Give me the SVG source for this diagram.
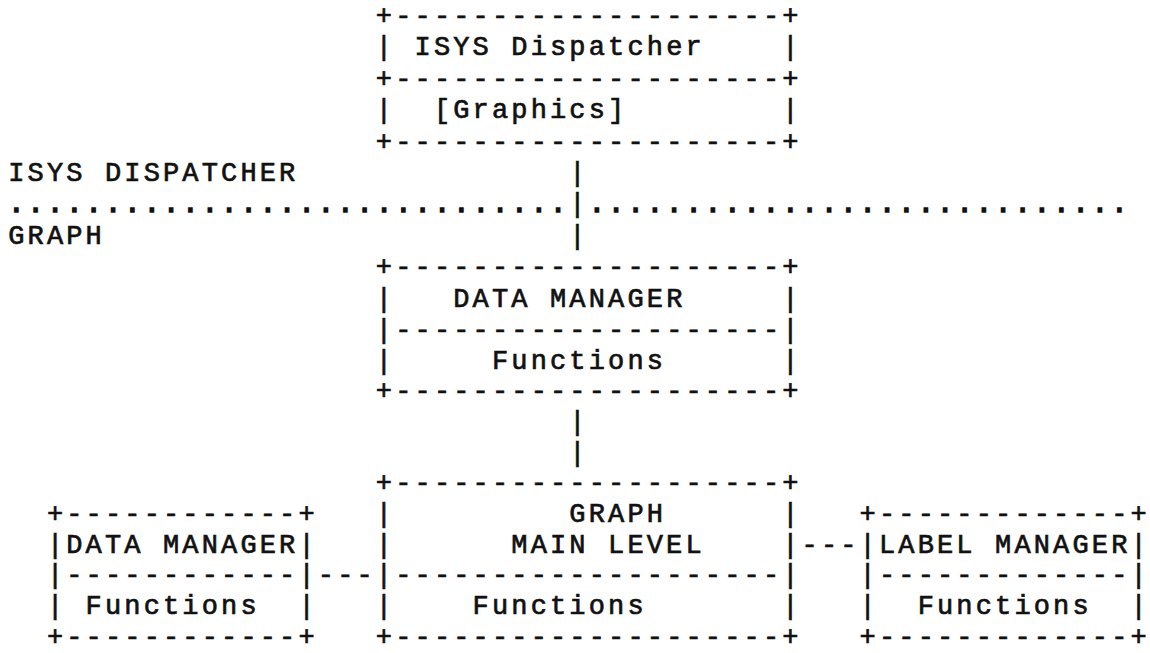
<svg xmlns="http://www.w3.org/2000/svg" width="1150" height="653" viewBox="0 0 1150 653">
<style>
.t{font-family:"Liberation Mono","Courier New",monospace;font-size:27px;letter-spacing:3.15px;fill:#111;stroke:#111;stroke-width:0.7px}
.dots{stroke-width:1.6px}
</style>
<rect width="1150" height="653" fill="#fff"/>
<g id="node-isys-dispatcher" class="t">
<text x="375.85" y="24">+--------------------+</text>
<text x="375.85" y="55.4">|</text><text x="414.55" y="55.4">ISYS Dispatcher</text><text x="782.2" y="55.4">|</text>
<text x="375.85" y="86.8">+--------------------+</text>
<text x="375.85" y="118.2">|</text><text x="433.9" y="118.2">[Graphics]</text><text x="782.2" y="118.2">|</text>
<text x="375.85" y="149.6">+--------------------+</text>
</g>
<g id="layer-labels" class="t">
<text x="8.2" y="181">ISYS DISPATCHER</text>
<text class="dots" x="8.2" y="212.4">.............................</text>
<text class="dots" x="588.7" y="212.4">............................</text>
<text x="8.2" y="243.8">GRAPH</text>
</g>
<g id="node-data-manager" class="t">
<text x="375.85" y="275.2">+--------------------+</text>
<text x="375.85" y="306.6">|</text><text x="453.25" y="306.6">DATA MANAGER</text><text x="782.2" y="306.6">|</text>
<text x="375.85" y="338">|--------------------|</text>
<text x="375.85" y="368.7">|</text><text x="491.95" y="368.7">Functions</text><text x="782.2" y="368.7">|</text>
<text x="375.85" y="399.3">+--------------------+</text>
</g>
<g id="node-graph-main" class="t">
<text x="375.85" y="491.3">+--------------------+</text>
<text x="375.85" y="522">|</text><text x="569.35" y="522">GRAPH</text><text x="782.2" y="522">|</text>
<text x="375.85" y="552.6">|</text><text x="511.3" y="552.6">MAIN LEVEL</text><text x="782.2" y="552.6">|</text>
<text x="375.85" y="583.3">|--------------------|</text>
<text x="375.85" y="614">|</text><text x="472.6" y="614">Functions</text><text x="782.2" y="614">|</text>
<text x="375.85" y="644.6">+--------------------+</text>
</g>
<g id="node-data-manager-functions" class="t">
<text x="46.9" y="522">+------------+</text>
<text x="46.9" y="552.6">|DATA MANAGER|</text>
<text x="46.9" y="583.3">|------------|</text>
<text x="46.9" y="614">|</text><text x="85.6" y="614">Functions</text><text x="298.45" y="614">|</text>
<text x="46.9" y="644.6">+------------+</text>
</g>
<g id="node-label-manager" class="t">
<text x="859.6" y="522">+-------------+</text>
<text x="859.6" y="552.6">|LABEL MANAGER|</text>
<text x="859.6" y="583.3">|-------------|</text>
<text x="859.6" y="614">|</text><text x="917.65" y="614">Functions</text><text x="1130.5" y="614">|</text>
<text x="859.6" y="644.6">+-------------+</text>
</g>
<g id="connectors" class="t">
<text x="569.35" y="181">|</text>
<text x="569.35" y="212.4">|</text>
<text x="569.35" y="243.8">|</text>
<text x="569.35" y="430">|</text>
<text x="569.35" y="460.6">|</text>
<text x="317.8" y="583.3">---</text>
<text x="801.55" y="552.6">---</text>
</g>
</svg>
